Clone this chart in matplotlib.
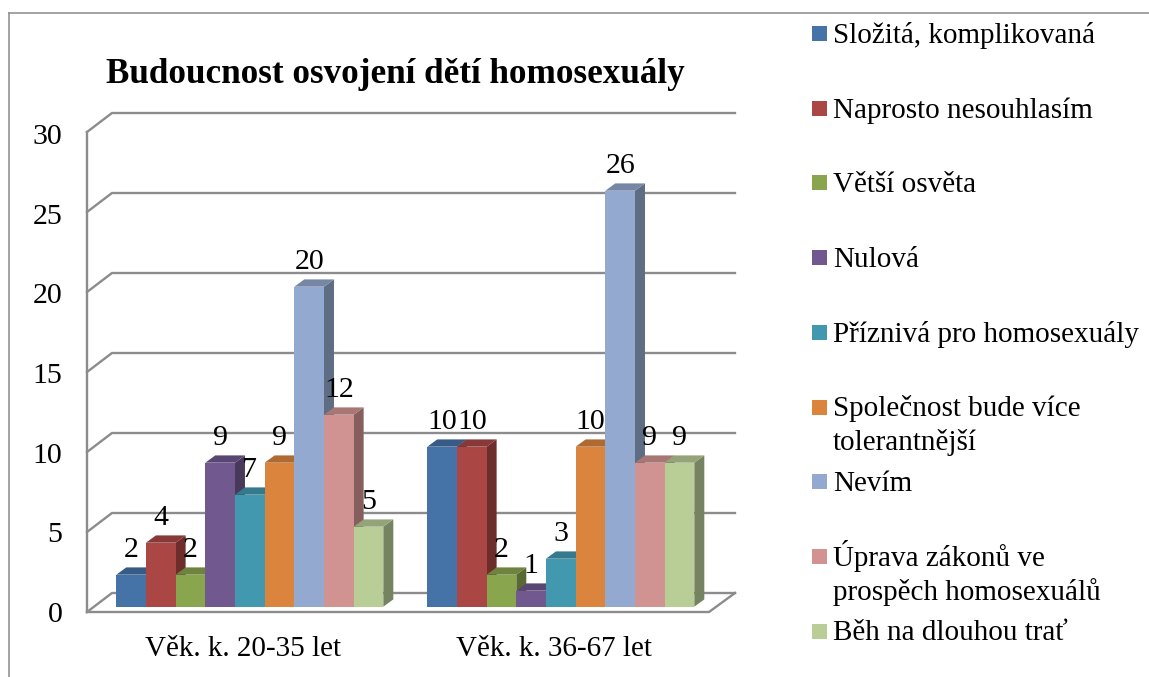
import matplotlib
matplotlib.use("Agg")
import matplotlib.pyplot as plt
from matplotlib.patches import Polygon, Rectangle

plt.rcParams['font.family'] = ['Liberation Serif', 'DejaVu Serif']

W, H = 1149, 677

title = "Budoucnost osvojení dětí homosexuály"
categories = ["Věk. k. 20-35 let", "Věk. k. 36-67 let"]
yticks = [0, 5, 10, 15, 20, 25, 30]

slozita = [2, 10]
nesouhlas = [4, 10]
osveta = [2, 2]
nulova = [9, 1]
prizniva = [7, 3]
spolecnost = [9, 10]
nevim = [20, 26]
uprava = [12, 9]
beh = [5, 9]

series = [slozita, nesouhlas, osveta, nulova, prizniva, spolecnost, nevim, uprava, beh]
names = ["Složitá, komplikovaná", "Naprosto nesouhlasím", "Větší osvěta", "Nulová",
         "Příznivá pro homosexuály", "Společnost bude více\ntolerantnější", "Nevím",
         "Úprava zákonů ve\nprospěch homosexuálů", "Běh na dlouhou trať"]
colors = ["#4572A7", "#AA4643", "#89A54E", "#71588F", "#4198AF",
          "#DB843D", "#93A9CF", "#D19392", "#B9CD96"]

# layout, in pixels of the reference
cat_px = 311.0
unit_px = 16.0
x0_px = 243.0
y0_px = 606.7
bar_w = 29.67 / cat_px
bar_shift = 6.8 / cat_px
dx = 10.0 / cat_px
dy = 7.3 / unit_px


def shade(c, f):
    r, g, b = matplotlib.colors.to_rgb(c)
    return (r * f, g * f, b * f)


fig = plt.figure(figsize=(W / 100, H / 100), dpi=100)
ax = fig.add_axes([0, 0, 1, 1])
ax.set_xlim((0 - x0_px) / cat_px, (W - x0_px) / cat_px)
ax.set_ylim((y0_px - H) / unit_px, y0_px / unit_px)
ax.axis('off')


def px(x):
    return (x - x0_px) / cat_px


def py(y):
    return (y0_px - y) / unit_px


# outer chart frame
frame = "#8a8a8a"
fig.add_artist(plt.Line2D([8.5 / W, 8.5 / W], [0, 1 - 12.5 / H], color=frame, lw=1.1))
fig.add_artist(plt.Line2D([8.5 / W, 1], [1 - 12.5 / H, 1 - 12.5 / H], color=frame, lw=1.1))

# walls and gridlines
grid = "#8c8c8c"
wall_left, wall_back, wall_right = px(87), px(112), px(735)
front_gap = py(612)
back_base = py(593)
for t in yticks:
    yb = back_base + t
    yf = front_gap + t
    ax.plot([wall_left, wall_back, wall_right], [yf, yb, yb], color=grid, lw=1.7,
            solid_joinstyle='miter', zorder=1)
    # labels sit a bit tighter than the gridlines
    ax.text(px(62.5), py(621.7) + t * 15.92 / unit_px, str(t), ha='right', va='baseline',
            fontsize=21.5, zorder=50)
ax.plot([wall_left, wall_left], [front_gap, front_gap + yticks[-1]], color=grid, lw=1.7, zorder=1)
ax.plot([wall_left, px(709), wall_right], [front_gap, front_gap, back_base], color=grid, lw=1.7,
        solid_joinstyle='miter', zorder=1)

# 3D bars, left to right so that later bars cover earlier sides
z = 2
for i, cat in enumerate(categories):
    for j, vals in enumerate(series):
        v = vals[i]
        c = colors[j]
        x1 = i + bar_shift + (j - 4.5) * bar_w
        x2 = x1 + bar_w
        ax.add_patch(Polygon([(x2, 0), (x2 + dx, dy), (x2 + dx, v + dy), (x2, v)],
                             fc=shade(c, 0.64), ec='none', zorder=z))
        ax.add_patch(Polygon([(x1, v), (x1 + dx, v + dy), (x2 + dx, v + dy), (x2, v)],
                             fc=shade(c, 0.8), ec='none', zorder=z))
        ax.add_patch(Rectangle((x1, 0), bar_w, v, fc=c, ec='none', zorder=z))
        ax.text((x1 + x2) / 2, v + 18 / unit_px, str(v), ha='center', va='baseline',
                fontsize=21.5, zorder=50)
        z += 1
    ax.text(i, py(656), cat, ha='center', va='baseline', fontsize=21)

ax.text(px(106), py(83.3), title, ha='left', va='baseline', fontsize=25.3, fontweight='bold')

# legend, one entry every 74.7 px, wrapped lines 34 px apart
for k, (name, c) in enumerate(zip(names, colors)):
    y = 33.5 + k * 74.7
    fig.add_artist(Rectangle((812 / W, 1 - (y + 7.5) / H), 15 / W, 15 / H, fc=c, ec='none',
                             transform=fig.transFigure))
    for n, line in enumerate(name.split("\n")):
        fig.text(833 / W, 1 - (y + 9.4 + n * 34) / H, line, ha='left', va='baseline', fontsize=21)

fig.savefig("out.png", dpi=100)
